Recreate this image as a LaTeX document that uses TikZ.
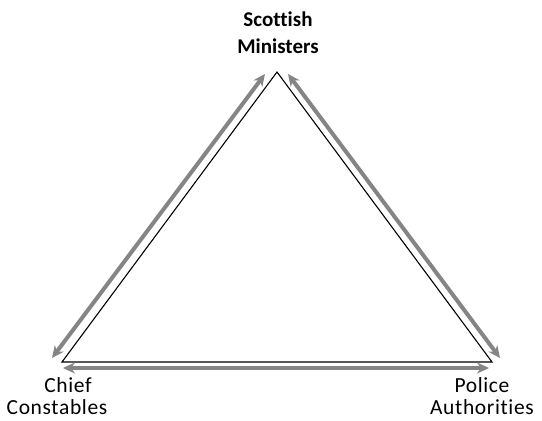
\documentclass[tikz,border=0pt]{standalone}
\usepackage{fontspec}
\setmainfont[Ligatures=NoCommon, RawFeature=-liga]{Carlito}
\usetikzlibrary{arrows.meta}

\begin{document}
\begin{tikzpicture}[
    x=1pt, y=-1pt,
        side/.style = {draw=black, line width=1.1pt},
        link/.style = {draw=black!48, line width=4pt,
                       arrows={Stealth[length=12pt,width=11pt]-Stealth[length=12pt,width=11pt]}},
        label/.style = {align=center, inner sep=0pt,
                        font=\fontsize{21.5}{22}\selectfont\addfontfeature{LetterSpace=3}},
        head/.style = {align=center, inner sep=0pt, font=\fontsize{21}{27}\selectfont\bfseries}
        ]
    \useasboundingbox (0,0) rectangle (542,421);

    % corners of the triangle
    \coordinate (top)   at (277,72);
    \coordinate (left)  at (62,362);
    \coordinate (right) at (492,362);

    % ends of the grey arrows
    \coordinate (tl-a) at (265,74);
    \coordinate (tl-b) at (52,358);
    \coordinate (tr-a) at (288,74);
    \coordinate (tr-b) at (500,358);
    \coordinate (bt-a) at (63,368);
    \coordinate (bt-b) at (489,368);

    \node[head]  (ministers)   at (278,33)  {Scottish\\Ministers};
    \node[label] (constables)  at (57,396)  {\hspace*{22pt}Chief\\Constables};
    \node[label] (authorities) at (482,396) {Police\\Authorities};

    \draw[side] (top) -- (left) -- (right) -- cycle;

    \draw[link] (tl-a) -- (tl-b);
    \draw[link] (tr-a) -- (tr-b);
    \draw[link] (bt-a) -- (bt-b);
\end{tikzpicture}
\end{document}
